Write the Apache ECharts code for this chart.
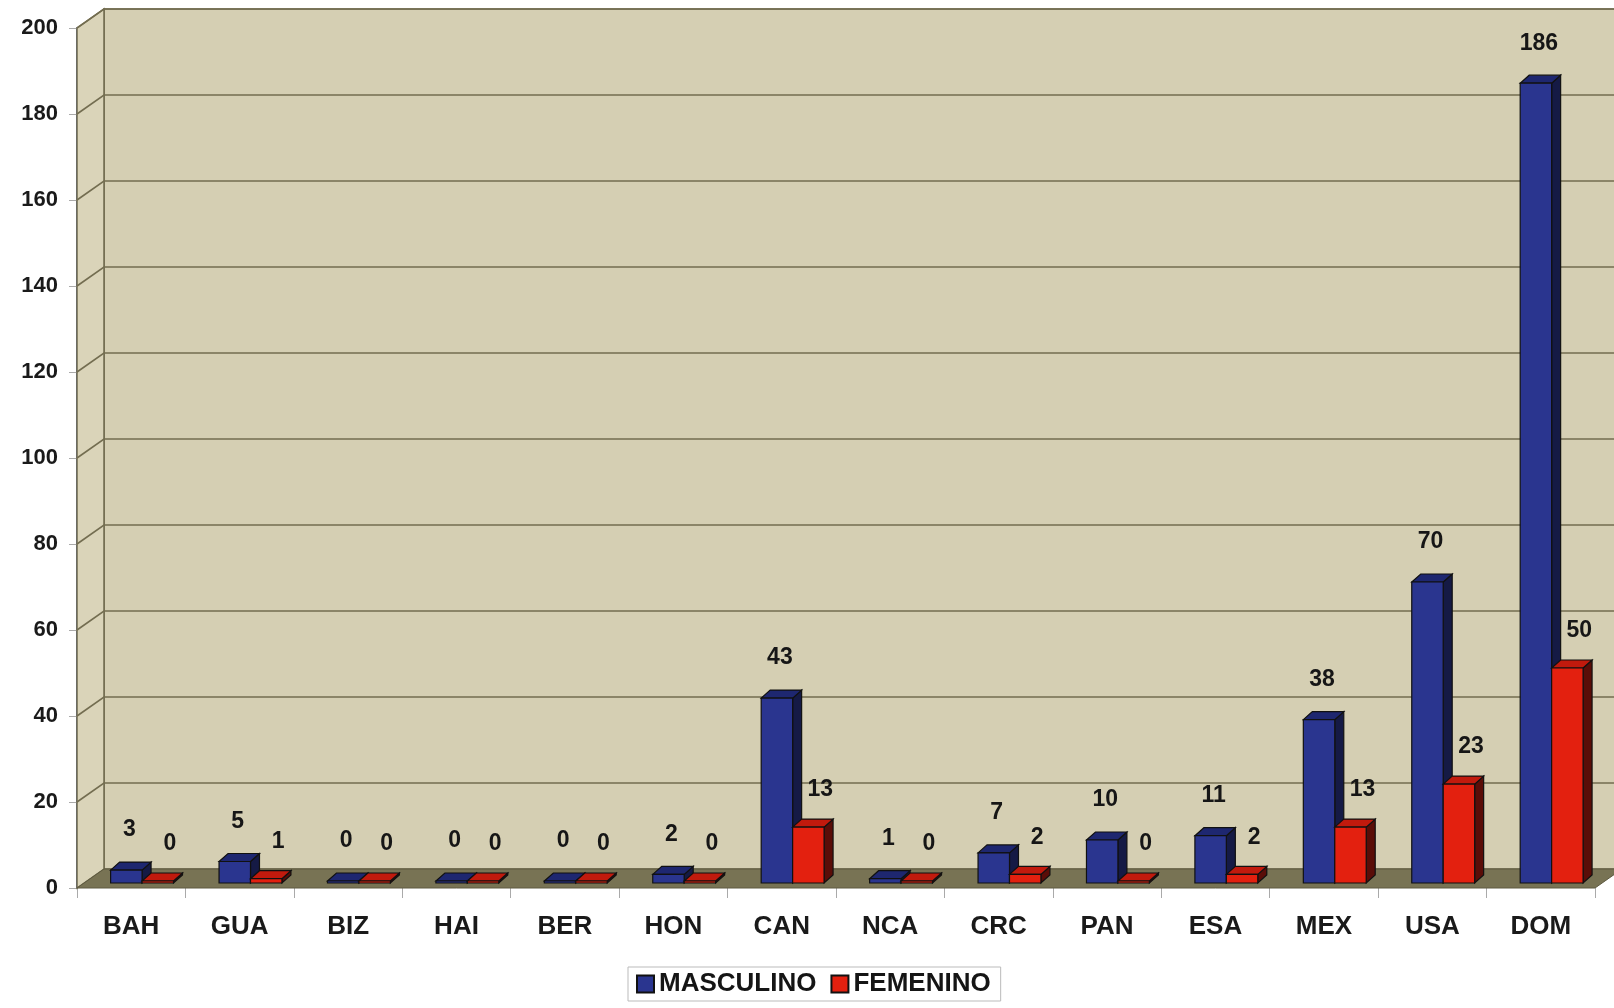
<!DOCTYPE html>
<html>
<head>
<meta charset="utf-8">
<script src="https://cdn.jsdelivr.net/npm/echarts@6/dist/echarts.min.js"></script>
<style>
  html, body { margin: 0; padding: 0; background: #fff; }
  #main { width: 1614px; height: 1008px; }
</style>
</head>
<body>
<div id="main"></div>
<script>
const categories = ['BAH', 'GUA', 'BIZ', 'HAI', 'BER', 'HON', 'CAN', 'NCA', 'CRC', 'PAN', 'ESA', 'MEX', 'USA', 'DOM'];
const masculino = [3, 5, 0, 0, 0, 2, 43, 1, 7, 10, 11, 38, 70, 186];
const femenino = [0, 1, 0, 0, 0, 0, 13, 0, 2, 0, 2, 13, 23, 50];
const yTicks = [0, 20, 40, 60, 80, 100, 120, 140, 160, 180, 200];

const FONT = '"Liberation Sans", Arial, sans-serif';
// wall depth (3d look)
const WDX = 27, WDY = -19;
// bar depth
const BDX = 9, BDY = -8;

const chart = echarts.init(document.getElementById('main'));

// back wall, side wall, floor and gridlines
function renderWalls(params, api) {
  const cs = params.coordSys;
  const x0 = cs.x, x1 = cs.x + cs.width;
  const yBase = api.coord([0, 0])[1];
  const yTop = api.coord([0, yTicks[yTicks.length - 1]])[1];
  const kids = [];
  kids.push({
    type: 'rect',
    shape: { x: x0 + WDX, y: yTop + WDY, width: 2000, height: yBase - yTop },
    style: { fill: '#d5cfb3', stroke: '#6f6a4e', lineWidth: 1.5 }
  });
  kids.push({
    type: 'polygon',
    shape: { points: [[x0, yTop], [x0 + WDX, yTop + WDY], [x0 + WDX, yBase + WDY], [x0, yBase]] },
    style: { fill: '#dad4b9', stroke: '#6f6a4e', lineWidth: 1.5 }
  });
  yTicks.forEach(function (t) {
    if (t === 0) return;
    const y = api.coord([0, t])[1];
    kids.push({
      type: 'polyline',
      shape: { points: [[x0, y], [x0 + WDX, y + WDY], [2000, y + WDY]] },
      style: { stroke: '#736d50', lineWidth: 1.6, fill: null }
    });
  });
  kids.push({
    type: 'polygon',
    shape: { points: [[x0, yBase], [x1, yBase], [x1 + WDX, yBase + WDY], [x0 + WDX, yBase + WDY]] },
    style: { fill: '#787354', stroke: '#5e5a40', lineWidth: 1 }
  });
  return { type: 'group', children: kids };
}

function makeBarRenderer(side, colors) {
  return function (params, api) {
    const i = api.value(0), v = api.value(1);
    const top = api.coord([i, v]);
    const base = api.coord([i, 0]);
    const band = api.size([1, 0])[0];
    const w = band * 0.29, sh = band * 0.1;
    const bx0 = side === 0 ? top[0] + sh - w : top[0] + sh;
    const bx1 = bx0 + w;
    const yb = base[1] - 5;
    let yt = top[1] - 5;
    if (yb - yt < 2) yt = yb - 2;
    const edge = { stroke: '#111', lineWidth: 1.2 };
    return {
      type: 'group',
      children: [
        { type: 'polygon', shape: { points: [[bx1, yt], [bx1 + BDX, yt + BDY], [bx1 + BDX, yb + BDY], [bx1, yb]] },
          style: Object.assign({ fill: colors.side }, edge) },
        { type: 'polygon', shape: { points: [[bx0, yt], [bx0 + BDX, yt + BDY], [bx1 + BDX, yt + BDY], [bx1, yt]] },
          style: Object.assign({ fill: colors.top }, edge) },
        { type: 'rect', shape: { x: bx0, y: yt, width: w, height: yb - yt },
          style: Object.assign({ fill: colors.front }, edge) },
        { type: 'text', style: {
            text: String(v), x: (bx0 + bx1) / 2 + (side === 0 ? 3 : 12), y: yt - (side === 0 ? 40 : 37),
            align: 'center', verticalAlign: 'middle',
            fontSize: 23, fontWeight: 'bold', fontFamily: FONT, fill: '#161616'
          } }
      ]
    };
  };
}

const option = {
  backgroundColor: '#ffffff',
  animation: false,
  grid: { left: 77, right: 19, top: 28, bottom: 120 },
  xAxis: {
    type: 'category',
    data: categories,
    axisLine: { show: false },
    axisTick: { show: true, length: 10, lineStyle: { color: '#aaa' } },
    axisLabel: { margin: 26, fontSize: 26, fontWeight: 'bold', fontFamily: FONT, color: '#1a1a1a' },
    splitLine: { show: false }
  },
  yAxis: {
    type: 'value',
    min: 0,
    max: 200,
    interval: 20,
    axisLine: { show: true, lineStyle: { color: '#5d6ea6', width: 2 } },
    axisTick: { show: true, length: 8, lineStyle: { color: '#aaa' } },
    axisLabel: { margin: 19, fontSize: 22, fontWeight: 'bold', fontFamily: FONT, color: '#1a1a1a' },
    splitLine: { show: false }
  },
  legend: {
    left: 628,
    top: 967,
    data: [{ name: 'MASCULINO', icon: 'rect' }, { name: 'FEMENINO', icon: 'rect' }],
    itemWidth: 17,
    itemHeight: 17,
    itemGap: 14,
    padding: [4, 10, 4, 8],
    borderColor: '#bbb',
    borderWidth: 1,
    textStyle: { fontSize: 26, fontWeight: 'bold', fontFamily: FONT, color: '#151515' }
  },
  series: [
    {
      type: 'custom',
      name: 'walls',
      silent: true,
      data: [[0, 0]],
      renderItem: renderWalls,
      z: 1
    },
    {
      type: 'custom',
      name: 'MASCULINO',
      itemStyle: { color: '#2a358f', borderColor: '#111', borderWidth: 1 },
      data: masculino.map(function (v, i) { return [i, v]; }),
      encode: { x: 0, y: 1 },
      renderItem: makeBarRenderer(0, { front: '#2a358f', top: '#1e2770', side: '#151a45' }),
      z: 3
    },
    {
      type: 'custom',
      name: 'FEMENINO',
      itemStyle: { color: '#e3200f', borderColor: '#111', borderWidth: 1 },
      data: femenino.map(function (v, i) { return [i, v]; }),
      encode: { x: 0, y: 1 },
      renderItem: makeBarRenderer(1, { front: '#e3200f', top: '#c11a0d', side: '#5a0d08' }),
      z: 4
    }
  ]
};

chart.setOption(option);
</script>
</body>
</html>
